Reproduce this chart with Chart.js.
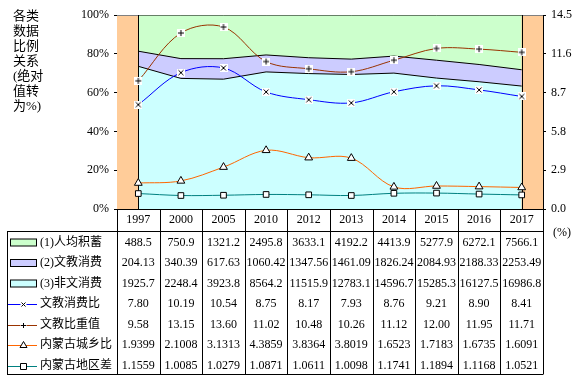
<!DOCTYPE html>
<html><head><meta charset="utf-8">
<script src="https://cdn.jsdelivr.net/npm/chart.js@4/dist/chart.umd.min.js"></script>
<style>html,body{margin:0;padding:0;background:#fff;}#wrap{position:relative;width:582px;height:380px;}</style>
</head><body><div id="wrap"><canvas id="c" width="582" height="380"></canvas></div>
<script>
const years = ['1997','2000','2005','2010','2012','2013','2014','2015','2016','2017'];
const savings = [488.5,750.9,1321.2,2495.8,3633.1,4192.2,4413.9,5277.9,6272.1,7566.1];
const eduSpend = [204.13,340.39,617.63,1060.42,1347.56,1461.09,1826.24,2084.93,2188.33,2253.49];
const otherSpend = [1925.7,2248.4,3923.8,8564.2,11515.9,12783.1,14596.7,15285.3,16127.5,16986.8];
const eduRatio = [7.80,10.19,10.54,8.75,8.17,7.93,8.76,9.21,8.90,8.41];
const eduWeight = [9.58,13.15,13.60,11.02,10.48,10.26,11.12,12.00,11.95,11.71];
const urbanRural = [1.9399,2.1008,3.1313,4.3859,3.8364,3.8019,1.6523,1.7183,1.6735,1.6091];
const regionalGap = [1.1559,1.0085,1.0279,1.0871,1.0611,1.0098,1.1741,1.1894,1.1168,1.0521];
const leftTicks = [0,20,40,60,80,100];
const rightTicks = [0,2.9,5.8,8.7,11.6,14.5];
const rowNames = ['(1)人均积蓄','(2)文教消费','(3)非文消费','文教消费比','文教比重值','内蒙古城乡比','内蒙古地区差'];
const yTitleLines = ['各类','数据','比例','关系','(绝对','值转','为%)'];
const unitLabel = '(%)';

const total = savings.map((v,i)=>v+eduSpend[i]+otherSpend[i]);
const share = arr => arr.map((v,i)=>v/total[i]*100);

function boxMarker(type){
  const c=document.createElement('canvas'); c.width=8; c.height=8;
  const g=c.getContext('2d');
  g.fillStyle='#fff'; g.fillRect(0,0,8,8);
  g.strokeStyle='#000'; g.lineWidth=1; g.beginPath();
  if(type==='x'){ g.moveTo(1.5,1.5); g.lineTo(6.5,6.5); g.moveTo(6.5,1.5); g.lineTo(1.5,6.5); }
  else { g.moveTo(4,1); g.lineTo(4,7); g.moveTo(1,4); g.lineTo(7,4); }
  g.stroke(); return c;
}
const xBox = boxMarker('x'), plusBox = boxMarker('+');

const FONT = "12px 'Liberation Serif', 'Noto Sans CJK SC'";
const fills = ['#CCFFCC','#CCCCFF','#CCFFFF'];
const lineCols = ['#0000FF','#993300','#FF6600','#008080'];
const fmt = [1,2,1,2,2,4,4];
const rowData = [savings,eduSpend,otherSpend,eduRatio,eduWeight,urbanRural,regionalGap];

const tablePlugin = {
  id:'tbl',
  beforeDatasetsDraw(chart){
    const a=chart.chartArea, ctx=chart.ctx;
    ctx.save();
    ctx.fillStyle='#FFCC99';
    ctx.fillRect(a.left,a.top,a.right-a.left,a.bottom-a.top);
    ctx.strokeStyle='#808080'; ctx.lineWidth=1;
    ctx.beginPath(); ctx.moveTo(a.left,Math.round(a.top)+0.5); ctx.lineTo(a.right,Math.round(a.top)+0.5); ctx.stroke();
    ctx.restore();
  },
  afterDatasetDraw(chart,args){
    if(args.index!==4) return;
    const a=chart.chartArea, ctx=chart.ctx, xs=chart.scales.x;
    ctx.save(); ctx.strokeStyle='#000'; ctx.lineWidth=1; ctx.beginPath();
    [0,years.length-1].forEach(i=>{ const x=Math.round(xs.getPixelForValue(i))+0.5; ctx.moveTo(x,a.top); ctx.lineTo(x,a.bottom); });
    ctx.stroke(); ctx.restore();
  },
  afterDraw(chart){
    const a=chart.chartArea, ctx=chart.ctx;
    const n=years.length, cw=(a.right-a.left)/n;
    const tableLeft=7, headBottom=231.5, tableBottom=374.5;
    const rowY0=242.5, rowStep=20.5;
    ctx.save();
    ctx.strokeStyle='#000'; ctx.lineWidth=1;
    ctx.beginPath();
    ctx.moveTo(a.left, Math.round(a.bottom)+0.5); ctx.lineTo(a.right, Math.round(a.bottom)+0.5);
    ctx.moveTo(tableLeft, headBottom); ctx.lineTo(a.right, headBottom);
    ctx.moveTo(tableLeft, tableBottom); ctx.lineTo(a.right, tableBottom);
    ctx.moveTo(tableLeft+0.5, headBottom); ctx.lineTo(tableLeft+0.5, tableBottom);
    for(let k=0;k<=n;k++){ const x=Math.round(a.left+k*cw)+0.5; ctx.moveTo(x,a.bottom); ctx.lineTo(x,tableBottom); }
    ctx.stroke();
    ctx.fillStyle='#000'; ctx.font=FONT; ctx.textBaseline='middle'; ctx.textAlign='center';
    years.forEach((y,i)=>ctx.fillText(y, a.left+(i+0.5)*cw, 220));
    rowData.forEach((arr,r)=>{
      const yy=rowY0+r*rowStep;
      arr.forEach((v,i)=>ctx.fillText(v.toFixed(fmt[r]), a.left+(i+0.5)*cw, yy));
    });
    // legend keys
    ctx.textAlign='left';
    rowNames.forEach((name,r)=>{
      const yy=rowY0+r*rowStep;
      if(r<3){
        ctx.fillStyle=fills[r]; ctx.fillRect(10.5,yy-3.5,26,7);
        ctx.strokeStyle='#000'; ctx.strokeRect(10.5,yy-3.5,26,7);
      } else {
        const li=r-3, cy=Math.round(yy)+0.5;
        ctx.strokeStyle=lineCols[li]; ctx.beginPath(); ctx.moveTo(8,cy); ctx.lineTo(37,cy); ctx.stroke();
        ctx.strokeStyle='#000'; ctx.fillStyle='#fff'; ctx.beginPath();
        const cx=23.5;
        if(li===0){ ctx.fillRect(cx-3,cy-3,6,6); ctx.moveTo(cx-2,cy-2); ctx.lineTo(cx+2,cy+2); ctx.moveTo(cx+2,cy-2); ctx.lineTo(cx-2,cy+2); ctx.stroke(); }
        else if(li===1){ ctx.fillRect(cx-3,cy-3,6,6); ctx.moveTo(cx,cy-2.5); ctx.lineTo(cx,cy+2.5); ctx.moveTo(cx-2.5,cy); ctx.lineTo(cx+2.5,cy); ctx.stroke(); }
        else if(li===2){ ctx.moveTo(cx,cy-4); ctx.lineTo(cx+3.5,cy+2); ctx.lineTo(cx-3.5,cy+2); ctx.closePath(); ctx.fill(); ctx.stroke(); }
        else { ctx.rect(cx-3,cy-3,6,6); ctx.fill(); ctx.stroke(); }
      }
      ctx.fillStyle='#000';
      ctx.fillText(name, 40, yy);
    });
    // left vertical title
    ctx.font="13px 'Liberation Serif', 'Noto Sans CJK SC'";
    yTitleLines.forEach((t,i)=>ctx.fillText(t, 13, 17+i*15));
    ctx.font=FONT;
    ctx.fillText(unitLabel, 553, 233);
    ctx.restore();
  }
};

const ptCommon = {borderWidth:1, yAxisID:'y1', fill:false, tension:0.35, pointBorderColor:'#000', pointBackgroundColor:'#fff', pointBorderWidth:1};
new Chart(document.getElementById('c'), {
  type:'line',
  data:{
    labels: years,
    datasets:[
      Object.assign({label:'文教消费比', data:eduRatio, borderColor:lineCols[0], pointStyle:xBox}, ptCommon),
      Object.assign({label:'文教比重值', data:eduWeight, borderColor:lineCols[1], pointStyle:plusBox}, ptCommon),
      Object.assign({label:'内蒙古城乡比', data:urbanRural, borderColor:lineCols[2], pointStyle:'triangle', pointRadius:4.5}, ptCommon),
      Object.assign({label:'内蒙古地区差', data:regionalGap, borderColor:lineCols[3], pointStyle:'rect', pointRadius:4}, ptCommon),
      {label:'(3)非文消费', data:share(otherSpend), yAxisID:'y', backgroundColor:fills[2], borderColor:'#000', borderWidth:1, fill:'origin', pointRadius:0, tension:0},
      {label:'(2)文教消费', data:share(eduSpend), yAxisID:'y', backgroundColor:fills[1], borderColor:'#000', borderWidth:1, fill:'-1', pointRadius:0, tension:0},
      {label:'(1)人均积蓄', data:share(savings), yAxisID:'y', backgroundColor:fills[0], borderColor:'#000', borderWidth:1, fill:'-1', pointRadius:0, tension:0}
    ]
  },
  options:{
    responsive:false, animation:false, events:[],
    layout:{padding:{top:15,bottom:171,left:0,right:0}},
    plugins:{legend:{display:false}, tooltip:{enabled:false}, title:{display:false}},
    scales:{
      x:{type:'category', offset:true, display:false},
      y:{position:'left', stacked:true, min:0, max:100,
         afterBuildTicks:s=>{s.ticks=leftTicks.map(v=>({value:v}));},
         afterFit:s=>{s.width=117;},
         ticks:{callback:v=>v+'%', color:'#000', font:{family:"'Liberation Serif'", size:12}, padding:5},
         grid:{display:true, drawOnChartArea:false, drawTicks:true, tickLength:3, color:'#000'},
         border:{display:true, color:'#000'}},
      y1:{position:'right', stacked:false, min:0, max:14.5,
         afterBuildTicks:s=>{s.ticks=rightTicks.map(v=>({value:v}));},
         afterFit:s=>{s.width=39;},
         ticks:{callback:v=>Number(v).toFixed(1), color:'#000', font:{family:"'Liberation Serif'", size:12}, padding:5},
         grid:{display:true, drawOnChartArea:false, drawTicks:true, tickLength:3, color:'#000'},
         border:{display:true, color:'#000'}}
    }
  },
  plugins:[tablePlugin]
});
</script></body></html>
